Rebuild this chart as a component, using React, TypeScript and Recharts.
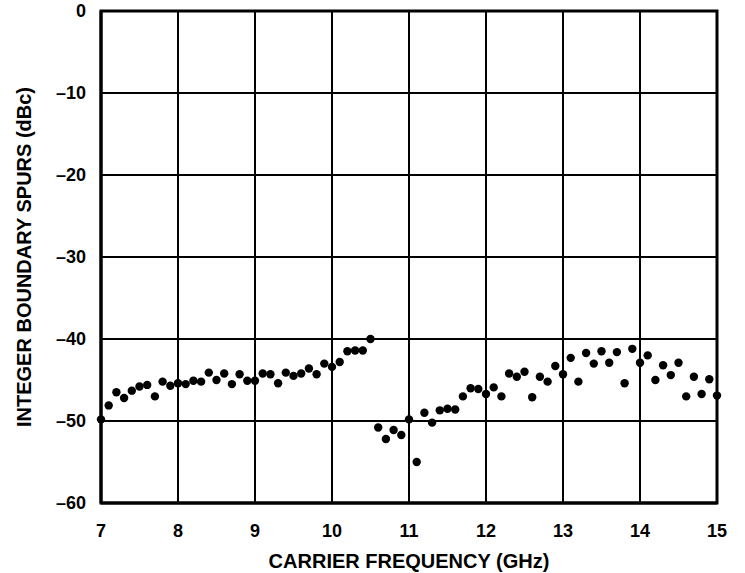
import React from 'react';
import { ScatterChart, Scatter, XAxis, YAxis, CartesianGrid, ReferenceArea } from 'recharts';

const frequencies = [
  7.0, 7.1, 7.2, 7.3, 7.4, 7.5, 7.6, 7.7, 7.8, 7.9,
  8.0, 8.1, 8.2, 8.3, 8.4, 8.5, 8.6, 8.7, 8.8, 8.9,
  9.0, 9.1, 9.2, 9.3, 9.4, 9.5, 9.6, 9.7, 9.8, 9.9,
  10.0, 10.1, 10.2, 10.3, 10.4, 10.5, 10.6, 10.7, 10.8, 10.9,
  11.0, 11.1, 11.2, 11.3, 11.4, 11.5, 11.6, 11.7, 11.8, 11.9,
  12.0, 12.1, 12.2, 12.3, 12.4, 12.5, 12.6, 12.7, 12.8, 12.9,
  13.0, 13.1, 13.2, 13.3, 13.4, 13.5, 13.6, 13.7, 13.8, 13.9,
  14.0, 14.1, 14.2, 14.3, 14.4, 14.5, 14.6, 14.7, 14.8, 14.9,
  15.0,
];

const spurs = [
  -49.8, -48.1, -46.5, -47.2, -46.3, -45.8, -45.6, -47.0, -45.2, -45.7,
  -45.4, -45.5, -45.1, -45.2, -44.1, -45.0, -44.2, -45.5, -44.3, -45.1,
  -45.1, -44.2, -44.3, -45.4, -44.1, -44.5, -44.2, -43.6, -44.3, -43.0,
  -43.4, -42.8, -41.5, -41.4, -41.4, -40.0, -50.8, -52.2, -51.1, -51.7,
  -49.8, -55.0, -49.0, -50.2, -48.7, -48.5, -48.6, -47.0, -46.0, -46.1,
  -46.7, -45.9, -47.0, -44.2, -44.6, -44.0, -47.1, -44.6, -45.2, -43.3,
  -44.3, -42.3, -45.2, -41.7, -43.0, -41.5, -42.9, -41.6, -45.4, -41.2,
  -42.9, -42.0, -45.0, -43.2, -44.4, -42.9, -47.0, -44.6, -46.7, -44.9,
  -46.9,
];

const xTicks = [7, 8, 9, 10, 11, 12, 13, 14, 15];
const yTicks = [-60, -50, -40, -30, -20, -10, 0];

const data = frequencies.map((f, i) => ({ f, v: spurs[i] }));

const FONT = '"Liberation Sans", Arial, Helvetica, sans-serif';

const Dot = (props: any) => {
  const { cx, cy } = props;
  if (cx == null || cy == null) return null;
  return <circle cx={cx} cy={cy} r={4.2} fill="#000" />;
};

const fmtY = (v: number) => (v < 0 ? `\u2013${-v}` : `${v}`);

export default function App() {
  return (
    <div style={{ position: 'absolute', left: 0, top: 0, background: '#fff' }}>
      <ScatterChart
        width={745}
        height={573}
        margin={{ top: 11, right: 28, left: 0, bottom: 0 }}
        style={{ fontFamily: FONT }}
      >
        <CartesianGrid stroke="#000" strokeWidth={2} horizontalValues={yTicks} verticalValues={xTicks} />
        <XAxis
          type="number"
          dataKey="f"
          domain={[7, 15]}
          ticks={xTicks}
          interval={0}
          height={70}
          tickLine={false}
          tickSize={0}
          tickMargin={21}
          axisLine={{ stroke: '#000', strokeWidth: 3 }}
          tick={{ fill: '#000', fontSize: 18, fontWeight: 700, fontFamily: FONT }}
          label={{
            value: 'CARRIER FREQUENCY (GHz)',
            position: 'insideBottom',
            offset: 5,
            style: { fill: '#000', fontSize: 20, fontWeight: 700, fontFamily: FONT, textAnchor: 'middle' },
          }}
        />
        <YAxis
          type="number"
          dataKey="v"
          domain={[-60, 0]}
          ticks={yTicks}
          interval={0}
          width={101}
          tickLine={false}
          tickSize={0}
          tickMargin={15}
          tickFormatter={fmtY}
          axisLine={{ stroke: '#000', strokeWidth: 3 }}
          tick={{ fill: '#000', fontSize: 18, fontWeight: 700, fontFamily: FONT }}
          label={{
            value: 'INTEGER BOUNDARY SPURS (dBc)',
            angle: -90,
            position: 'insideLeft',
            offset: 24,
            style: { fill: '#000', fontSize: 20, fontWeight: 700, fontFamily: FONT, textAnchor: 'middle' },
          }}
        />
        <ReferenceArea
          x1={7}
          x2={15}
          y1={-60}
          y2={0}
          fill="none"
          fillOpacity={0}
          stroke="#000"
          strokeWidth={3}
          ifOverflow="visible"
        />
        <Scatter data={data} fill="#000" shape={<Dot />} isAnimationActive={false} />
      </ScatterChart>
    </div>
  );
}
